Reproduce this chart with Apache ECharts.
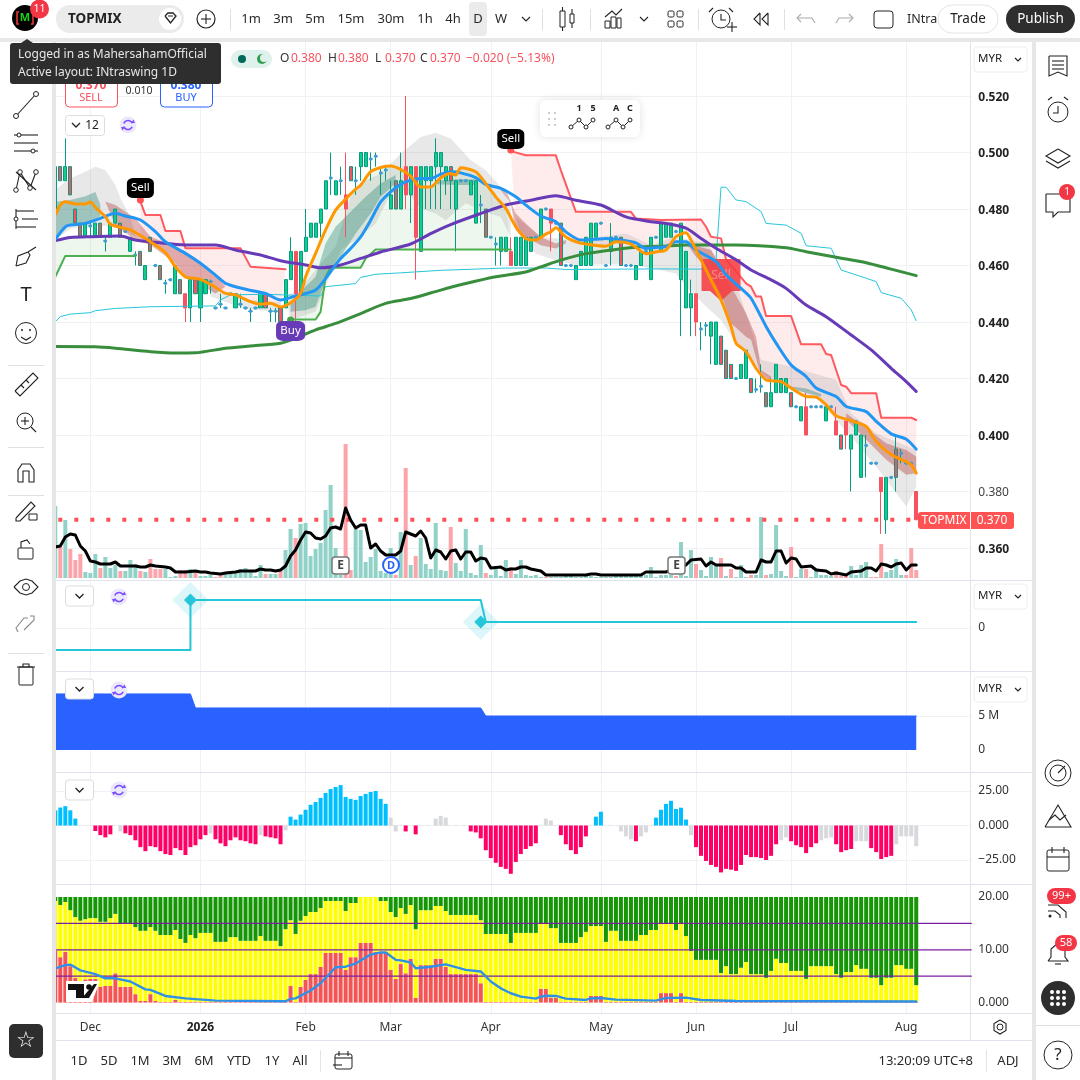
<!DOCTYPE html>
<html><head><meta charset="utf-8">
<style>html,body{margin:0;padding:0;background:#fff}#c{width:1080px;height:1080px}</style>
<script src="https://cdn.jsdelivr.net/npm/echarts@6/dist/echarts.min.js"></script></head>
<body><div id="c"></div>
<script>
const FONT='"Noto Sans",sans-serif';
const tickIdx=[7,29,50,67,87,109,128,147,170];
const tickLabels=['Dec','2026','Feb','Mar','Apr','May','Jun','Jul','Aug'];
const categories=Array.from({length:184},(_,i)=>String(i));
// candles, thousandths of MYR
const opens=[480,495,490,495,480,475,470,474,470,475,
468.7,470,475,475,472,465,463.7,465,455,470,
460,460,453.7,455,450,455,450,445,455,445,
450,454.3,445,446.3,445,450,445,446.3,445,443.8,
445,445,450,443.8,443.8,445,445,455,465,450,
465,470,470,475,480,491,485,490,485,495,
490,495,495,497.7,498.7,492.7,493.8,480,490,480,
495,485,495,465,490,490,495,495,490,495,
480,490,490,485,475,481.4,480,470,467.6,465,
465,465,460,460,460,465,470,470,480,480,
475,475,460,460,455,460,460,460,470,475,
460,465,470,470,460,460,455,460,465,455,
470,465,470,470,472,455,445,445,450,437.5,
438.8,435,425,435,430,425,420,420,420,420,
416.1,417.3,415,410,415,415,415,415,410,405,
410,410,410,410,405,410,405,400,405,395,
400,385,396.3,390,390,385,370,385,395,393.5,
390,390,380];
const closes=[495,490,495,485,475,470,475,474,475,470,
468.7,475,480,470,472,470,463.7,460,460,465,
460,455,453.7,455,460,450,445,455,450,455,
455,454.3,445,446.3,445,450,450,446.3,445,443.8,
445,450,445,443.8,443.8,440,455,465,450,465,
470,475,475,480,490,491,490,490,480,490,
490,500,500,497.7,498.7,492.7,493.8,485,480,490,
485,495,470,495,495,495,500,500,495,490,
490,490,490,490,490,481.4,470,470,467.6,470,
470,460,470,470,470,470,470,480,480,475,
475,460,460,460,460,465,470,475,475,475,
460,470,470,460,460,460,460,465,465,470,
470,475,475,475,472,475,465,450,440,437.5,
438.8,440,440,425,420,420,420,425,430,415,
416.1,417.3,410,415,425,420,420,410,410,410,
400,410,410,410,410,410,400,395,400,400,
405,400,396.3,390,390,380,385,385,385,393.5,
390,390,370];
const lows=[480,490,490,485,475,470,470,470,470,470,
465,470,475,470,472,465,460,460,455,465,
460,455,450,455,450,450,440,440,450,440,
450,450,445,445,445,450,445,445,445,440,
445,445,445,440,440,440,445,455,435,450,
465,470,470,470,480,485,485,485,470,490,
485,490,495,490,495,485,490,480,480,480,
480,475,455,465,480,480,480,480,485,480,
465,490,490,485,475,475,470,470,460,460,
465,460,460,460,460,465,470,470,480,465,
475,460,460,460,455,460,460,460,470,475,
460,460,470,460,460,460,455,460,465,455,
470,465,470,470,472,435,445,435,435,430,
435,425,425,425,420,420,420,420,420,415,
415,415,410,410,415,415,415,410,410,405,
400,410,410,410,405,410,400,395,395,380,
400,385,385,390,390,365,365,385,380,390,
390,390,370];
const highs=[495,495,505,495,480,475,475,475,475,475,
470,475,480,475,472,470,465,465,460,470,
460,460,455,455,460,455,450,455,455,455,
455,455,445,450,445,450,450,450,445,445,
445,450,450,445,445,445,455,470,465,465,
480,475,475,480,490,500,490,495,500,495,
495,500,500,500,500,495,495,490,490,500,
520,495,495,495,495,495,505,500,495,495,
490,490,490,490,490,485,480,470,470,470,
470,470,470,470,470,470,470,480,480,480,
475,475,460,460,460,465,470,475,475,475,
460,475,470,470,460,460,460,465,465,470,
470,475,475,475,472,475,465,455,450,440,
440,440,440,435,430,425,420,425,430,420,
420,425,415,420,425,420,420,415,410,410,
415,410,410,410,410,410,410,400,405,400,
405,400,400,390,390,385,385,385,400,395,
390,390,380];
const redWick=[26,48,58,70,72,91,99,128,150,156,158,165,172];
const volumes=[72,31,58,29,18,24,6,5,24,10,
21,10,13,7,7,18,14,7,6,19,
9,9,9,1,2,8,8,9,8,2,
2,3,1,3,4,6,6,9,10,8,
2,13,4,4,4,7,28,49,40,54,
55,22,29,35,68,93,30,3,134,8,
49,48,16,21,29,7,5,30,3,46,
110,13,22,40,14,9,55,8,7,51,
15,7,49,5,3,33,5,3,9,2,
18,11,4,18,3,2,3,1,1,1,
1,1,2,2,1,1,2,2,1,1,
1,1,2,2,3,3,3,3,3,11,
1,3,3,3,2,36,2,28,14,8,
2,21,14,20,2,9,1,13,1,3,
3,61,3,4,53,7,2,31,1,9,
9,1,10,3,3,2,7,2,2,12,
3,13,16,1,1,34,6,8,19,3,
3,30,8];
const volRed=[1,3,4,5,9,13,17,19,20,21,25,26,28,32,33,42,45,48,58,59,68,70,72,79,86,91,98,124,128,133,135,139,142,147,150,156,157,158,163,164,165,170,171,172];
const volAvg=[[0,31],[1,32],[2,41],[3,44],[4,43],[5,32],[6,27],[7,17],[8,16],[9,14],[10,14],[11,14],[12,16],[13,12],[14,12],[16,12],[17,11],[18,11],[19,13],[20,12],[22,11],[23,10],[24,6],[26,6],[28,7],[29,6],[30,6],[31,5],[33,4],[34,5],[36,6],[37,7],[40,7],[41,9],[42,8],[43,8],[44,7],[45,8],[46,12],[47,22],[48,28],[49,38],[50,46],[51,45],[52,40],[53,39],[54,42],[55,50],[56,51],[57,49],[58,70],[59,58],[60,50],[61,53],[62,53],[63,30],[64,34],[65,27],[66,23],[68,23],[69,27],[70,46],[71,44],[72,42],[73,47],[74,40],[75,20],[76,28],[77,26],[78,19],[79,27],[80,28],[81,19],[82,26],[83,26],[84,17],[85,20],[86,19],[87,10],[89,11],[90,8],[91,9],[92,9],[93,11],[94,11],[95,9],[96,8],[97,7],[98,3],[106,3],[107,4],[108,4],[109,3],[117,3],[118,6],[122,6],[126,13],[127,18],[129,19],[130,12],[131,16],[132,13],[135,13],[136,10],[137,10],[138,6],[140,6],[141,18],[142,16],[143,16],[144,27],[145,27],[146,15],[147,20],[148,19],[149,11],[151,12],[152,8],[154,7],[155,4],[156,5],[158,3],[159,6],[161,7],[162,10],[163,10],[164,7],[165,14],[166,13],[167,11],[168,14],[169,15],[170,8],[171,13],[172,13]];
const emaFast=[[0,.4779],[1,.4814],[2,.4826],[4,.4818],[6,.4818],[7,.4825],[8,.4806],[10,.4773],[11,.4746],[13,.4735],[15,.4726],[17,.4706],[19,.4684],[22,.4645],[24,.4596],[26,.456],[29,.4551],[32,.4523],[34,.4501],[36,.4496],[39,.4472],[41,.4463],[43,.4466],[45,.4453],[47,.4468],[49,.4501],[50,.456],[52,.4643],[54,.4726],[56,.4796],[58,.4835],[60,.487],[61,.4884],[63,.4932],[65,.4947],[67,.4952],[69,.494],[71,.4916],[73,.4878],[75,.4878],[77,.4911],[79,.4926],[80,.492],[81,.4946],[84,.4932],[86,.489],[88,.4843],[90,.4802],[92,.4737],[94,.4696],[96,.469],[98,.4711],[99,.4719],[100,.4734],[102,.4701],[104,.4684],[106,.4676],[110,.4668],[112,.4684],[115,.4676],[118,.4642],[120,.4648],[122,.4655],[124,.4702],[126,.4716],[127,.469],[129,.462],[131,.4549],[133,.4478],[135,.4384],[136,.4325],[138,.4295],[140,.4236],[142,.4195],[145,.4189],[147,.4166],[150,.4136],[152,.4134],[154,.4107],[156,.4068],[159,.4051],[162,.403],[164,.3977],[167,.393],[170,.3906],[171,.3894],[172,.3865]];
const emaSlow=[[0,.4693],[2,.4737],[3,.4743],[6,.4749],[9,.4767],[12,.4785],[14,.4775],[17,.4761],[20,.472],[22,.4684],[26,.4643],[29,.4608],[32,.4566],[34,.4537],[38,.4516],[42,.4501],[45,.4478],[48,.4492],[52,.4513],[55,.4578],[57,.4625],[59,.466],[61,.4701],[63,.476],[65,.4825],[67,.4861],[69,.4887],[71,.4902],[73,.4908],[75,.4908],[77,.4923],[79,.4932],[81,.4928],[84,.4911],[86,.4887],[89,.4873],[92,.4843],[94,.4814],[97,.4775],[100,.4755],[102,.4719],[105,.469],[108,.4693],[110,.4696],[113,.469],[116,.468],[118,.466],[120,.4664],[122,.4667],[124,.4684],[126,.4684],[128,.4655],[132,.4614],[134,.4567],[137,.4519],[139,.4484],[142,.4384],[144,.4325],[147,.4248],[150,.4207],[152,.4166],[156,.4136],[158,.4101],[162,.4083],[164,.4048],[167,.4004],[170,.3985],[172,.395]];
const maPurple=[[0,.4688],[3,.4699],[7,.4702],[13,.4704],[16,.469],[20,.4682],[26,.4673],[32,.4673],[36,.4655],[41,.4637],[45,.4617],[50,.4602],[53,.4592],[57,.4602],[61,.4625],[65,.4648],[71,.4676],[75,.4713],[79,.4745],[85,.4784],[90,.4814],[95,.4831],[100,.4847],[104,.4831],[109,.4814],[114,.4772],[119,.4755],[122,.4749],[126,.4732],[129,.4696],[132,.4661],[136,.462],[139,.4584],[143,.4549],[146,.4519],[150,.446],[154,.4419],[159,.4354],[163,.4301],[167,.4236],[170,.4189],[172,.4154]];
const maGreen=[[0,.4313],[8,.4312],[12,.4307],[19,.4295],[24,.429],[28,.4291],[34,.4307],[39,.4315],[45,.4325],[48,.4342],[52,.4372],[56,.4395],[61,.443],[66,.4466],[71,.4483],[77,.4513],[82,.4536],[88,.456],[94,.4577],[97,.4595],[101,.4619],[106,.4642],[112,.4657],[117,.4666],[121,.4668],[126,.4673],[136,.4673],[146,.4663],[150,.4649],[156,.4629],[162,.461],[167,.4587],[172,.4564]];
const cyanLine=[[0,.4401],[1,.4419],[3,.4428],[7,.4433],[8,.444],[12,.4448],[19,.4454],[32,.4457],[33,.4478],[35,.4496],[42,.4498],[53,.4492],[54,.4525],[60,.4536],[61,.4558],[64,.4569],[69,.4574],[77,.4583],[90,.4591],[98,.4591],[102,.4586],[121,.4588],[129,.4587],[132,.462],[133,.4877],[134,.4877],[136,.4832],[138,.4826],[141,.4791],[142,.4749],[146,.4743],[149,.4714],[150,.467],[155,.4661],[157,.4584],[162,.4555],[164,.4543],[165,.4504],[169,.4484],[171,.4443],[172,.4405]];
const redStep1=[[17,.4826],[18,.4779],[21,.4779],[22,.4722],[25,.4722],[26,.4661],[37,.4661],[39,.4596],[46,.4587]];
const redStep2=[[91,.5005],[94,.499],[100,.499],[101,.4937],[104,.479],[115,.479],[116,.4766],[121,.4761],[129,.4763],[130,.4737],[131,.4702],[133,.4696],[134,.4622],[138,.4537],[139,.4525],[140,.449],[141,.449],[142,.4421],[147,.4421],[149,.4321],[153,.4321],[154,.4287],[155,.4283],[157,.4177],[158,.4171],[159,.4148],[164,.4148],[165,.4061],[171,.4061],[172,.4053]];
const greenStep1=[[0,.456],[2,.4634],[16,.4634]];
const greenStep2=[[47,.4409],[52,.4409],[53,.4436],[54,.456],[55,.4593],[61,.4592],[62,.4625],[64,.4657],[91,.4657]];
// cloud polygons: outline vertices [bar, price]
const grayA=[[0,.4869],[3,.4909],[6,.4932],[8,.495],[10,.4938],[12,.4885],[13,.4838],[15,.4773],[16,.4702],[13,.473],[10,.474],[6,.474],[3,.473],[0,.469]];
const tealA=[[0,.4826],[3,.4832],[6,.4845],[8,.486],[9,.4815],[9,.4775],[7,.4755],[4,.4745],[2,.4737],[0,.4693]];
const redB=[[10,.4826],[12,.4814],[16,.4767],[19,.4702],[24,.4667],[28,.462],[32,.4566],[34,.4525],[32,.4501],[29,.4531],[26,.456],[24,.4608],[19,.4673],[16,.469],[12,.4743]];
const grayB=[[31,.4525],[38,.448],[45,.447],[45,.4435],[38,.4445],[31,.449]];
const tealC=[[47,.4472],[50,.4525],[52,.456],[54,.4678],[56,.4737],[59,.479],[62,.4843],[65,.489],[68,.492],[68,.489],[65,.4843],[63,.4784],[60,.4713],[57,.4631],[54,.4549],[52,.4454],[50,.4442],[47,.4436]];
const grayC=[[46,.449],[49,.4519],[52,.4584],[56,.4667],[59,.4843],[62,.4902],[65,.4926],[69,.4996],[73,.5055],[76,.507],[79,.505],[83,.4973],[86,.4937],[89,.4878],[91,.4808],[91,.4701],[89,.4772],[85,.4796],[82,.482],[78,.476],[76,.4784],[73,.4802],[70,.4867],[67,.4855],[64,.4749],[60,.469],[57,.4655],[52,.4437],[47,.4407]];
const tealD=[[76,.49],[80,.4905],[84,.4905],[84,.4885],[80,.4885],[76,.4888]];
const redE=[[88,.4884],[90,.4867],[92,.4784],[94,.4749],[97,.4701],[100,.4678],[102,.469],[102,.4678],[100,.466],[97,.4672],[94,.4701],[92,.4725],[91,.4819],[89,.4867]];
const grayE=[[92,.4772],[97,.4701],[104,.469],[114,.4713],[119,.4673],[124,.4702],[130,.4679],[136,.4537],[141,.4266],[147,.4242],[156,.4195],[159,.4077],[164,.4006],[172,.3947],[172,.3818],[170,.3747],[167,.3818],[164,.3888],[159,.3995],[152,.413],[147,.4171],[142,.4207],[136,.4325],[133,.4407],[130,.4455],[126,.4525],[124,.4572],[119,.459],[114,.4607],[104,.4601],[100,.4619],[96,.4642],[93,.4713]];
const redF=[[126,.4679],[131,.4655],[135,.4525],[138,.4431],[140,.4348],[141,.423],[143,.4207],[143,.4195],[141,.4207],[139,.4337],[138,.4348],[135,.4396],[133,.4502],[130,.4596],[128,.4631]];
const redG=[[158,.4077],[162,.4024],[166,.3971],[170,.3947],[172,.3924],[172,.3865],[170,.3859],[166,.3912],[162,.3983],[158,.4054]];
const tealE=[[147,.4172],[150,.4165],[153,.4145],[153,.4135],[150,.415],[147,.4162]];
const lastPrice=.37;
const sellBars=[17,91], sellPrices=[.4874,.5048], sellDots=[.4832,.5009], sellTips=[.4848,.5024];
const buyBars=[47], buyPrices=[.4368], buyDots=[.4407];
const bigSell=[[133,.4566]], bigSellTip=[[133,.4492]];
// pane 2
const trendStep=[[0,-22],[27,-22],[27,28],[85,28],[86,6],[172,6]];
const trendFlips=[[27,28],[85,6]];
// pane 3 (millions)
const equity=[[0,8.24],[27,8.24],[28,6.18],[85,6.18],[86,5],[172,5]];
// pane 4
const osc=[11,13,14,11,5,0,0,0,-4,-7,
-8.6,-6.4,0,-4.3,-5.7,-7,-10.7,-15.7,-18.6,-15,
-15.7,-18.6,-20.7,-21.4,-16.4,-17.9,-21.4,-15.7,-14.3,-10,
-7,-5.7,-10,-12.9,-15,-10.7,-8.6,-10.7,-11.4,-12.9,
-13.6,-7,-7.9,-8.6,-9.3,-13.6,-3.6,6.4,4.3,7.9,
11.4,15,17,20,23.6,26.4,27.9,29.3,20.7,19.3,
18.6,21.4,22.9,24.3,25,19.3,15.7,5.7,-4.3,0,
-4.3,0,-6.4,0,0,0,5,7,5.7,0,
0,0,0,-4.3,-5,-9.3,-17.9,-23.6,-27,-30,
-31.4,-35,-26.4,-20.7,-17,-15,-12.9,0,5,3.6,
0,-7,-13.6,-17.9,-20.7,-15.7,-7.9,0,6.4,10,
0,0,0,-4.3,-7.9,-10,-11.4,-7.9,-5,0,
5.7,11.4,15.7,17.9,12,12.9,4.3,-7,-15.7,-22,
-25.7,-28.6,-30,-34,-31.4,-32,-32.9,-28.6,-21.4,-22.9,
-22.9,-23.6,-25,-22,-13.6,-10.7,-8.6,-11.4,-14.3,-15.7,
-20,-15.7,-12.9,-10.7,-9.3,-8.6,-13.6,-19.3,-17.9,-17,
-11.4,-11.4,-11.4,-16.4,-19.3,-24.3,-22.9,-22,-13.6,-7.9,
-7.9,-7.9,-15];
const oscGray=[13,31,41,46,67,68,76,77,78,98,99,113,114,115,117,118,127,145,146,153,154,155,160,161,162,168,169,170,171,172];
// pane 5
const yellowTop=[19.24,18.49,19.05,17.5,16.2,15.5,15.8,16,16,15.3,
15.3,16,16.8,15,15,15,14.3,13.6,13.6,14.3,
13.6,12.8,12.8,12.8,13.75,12.05,11.3,12.8,12.2,13.2,
13.2,13.2,11.5,11.5,11.5,12.4,12.4,11.7,11.7,11.7,
11.7,12.6,11.7,11.7,11.7,10.7,13.9,15.6,13,15.5,
16.4,17.16,17.16,17.9,19.24,19.24,19.24,19.24,17.35,18.86,
18.86,20,20,20,20,19.24,19.24,17.16,16.2,17.9,
16.8,18.49,13.9,17.5,17.5,17.5,18.3,18.3,17.35,16.6,
16.6,16.6,16.6,16.6,16.6,15.6,13,13,13,13,
13,11.3,13.2,13.2,13.2,13.2,13.2,15,15,14.1,
14.1,11.3,11.3,11.3,11.3,12.4,13.4,14.5,14.5,14.5,
11.5,13.6,13.6,11.7,11.7,11.7,11.7,12.8,12.8,13.75,
13.75,15,15,15,13.75,15,12.6,9.8,8.1,8.1,
8.1,8.1,8.1,5.6,6.9,5.4,5.4,6.6,7.7,5.4,
5.4,5.4,4.7,6,8.3,7.5,7.5,6,6,6,
4.5,6.9,6.9,6.9,6.9,6.9,5.4,4.7,5.8,5.8,
7.1,6.4,6.4,4.7,4.7,3.3,4.7,4.7,7.1,7.1,
6.4,6.4,3.3];
const redTop=[9.8,8.6,9.6,6.9,4.7,3.9,4.4,4.5,4.5,3,
3.15,3.15,5.55,3,3,3,1.6,.3,.3,1.6,
.3,.13,.13,.13,.5,.13,.13,.13,.13,.13,
.13,.13,.13,.13,.13,.13,.13,.13,.13,.13,
.13,.13,.13,.13,.13,.13,.13,3.15,.13,3,
4.3,5.4,5.4,6.75,9.4,9.4,9.4,9.4,6.2,8.6,
8.6,11.3,11.3,11.3,9.6,9.6,9.6,6.2,4.5,7.3,
5.55,8.3,.9,7.1,7.1,7.1,8.3,8.3,6.75,5.4,
5.4,5.4,5.4,5.4,5.4,3.66,.13,.13,.13,.13,
.13,.13,.13,.13,.13,.13,.13,2.6,2.6,.9,
.9,.13,.13,.13,.13,.13,.13,1.26,1.26,1.26,
.13,.13,.13,.13,.13,.13,.13,.13,.13,.13,
.13,1.8,1.8,1.8,.13,1.8,.13,.13,.13,.13,
.13,.13,.13,.13,.13,.13,.13,.13,.13,.13,
.13,.13,.13,.13,.13,.13,.13,.13,.13,.13,
.13,.13,.13,.13,.13,.13,.13,.13,.13,.13,
.13,.13,.13,.13,.13,.13,.13,.13,.13,.13,
.13,.13,.13];
const condLine=[[0,6.5],[2,7.1],[3,7.2],[5,6.1],[8,5.4],[10,4.6],[12,4.6],[15,4],[18,2.5],[19,2.4],[22,1.26],[26,.8],[32,.38],[46,.25],[47,.7],[48,.8],[51,2.3],[53,3.66],[56,6.7],[58,6.8],[60,7.4],[63,9.1],[65,9.5],[66,9.5],[68,8.1],[69,8],[71,7.6],[72,6.5],[75,6.8],[78,7.25],[82,6.2],[85,5.9],[87,4],[89,2.7],[91,1.77],[93,1.14],[96,.76],[97,1.14],[98,1.3],[100,1.26],[102,.76],[106,.5],[107,.8],[109,.88],[112,.57],[120,.38],[122,.88],[126,.95],[129,.5],[136,.3],[172,.2]];
const condLevels=[15,10,5];

const L=55.3,W=916;
const LBL={fontFamily:FONT,fontSize:12,color:'#333',margin:7,align:'left',padding:[3,0,0,0]};
const grids=[[42,971],[39.5,565],[585,86],[682,68],[756.5,138],[897,105.6]].map(g=>({left:L,width:W,top:g[0],height:g[1],containLabel:false}));
const xAxes=grids.map((g,i)=>({gridIndex:i,type:'category',data:categories,boundaryGap:false,show:i===0,
  axisLine:{show:false},axisTick:{show:false},
  axisLabel:i===0?{interval:(k)=>tickIdx.includes(k),margin:9,fontFamily:FONT,fontSize:12,color:'#333',hideOverlap:false,
    formatter:(v,k)=>{const j=tickIdx.indexOf(+v);if(j<0)return '';return tickLabels[j]==='2026'?'{b|2026}':tickLabels[j];},rich:{b:{fontWeight:'bold',fontSize:12,fontFamily:FONT,color:'#222'}}}:{show:false},
  splitLine:i===0?{show:true,interval:(k)=>tickIdx.includes(k),lineStyle:{color:'#f0f1f4',width:1}}:{show:false}}));
const hl={show:true,showMinLine:false,showMaxLine:false,lineStyle:{color:'#f0f1f4',width:1}};
const yAxes=[
 {gridIndex:0,type:'value',show:false,min:0,max:1},
 {gridIndex:1,type:'value',position:'right',min:.34,max:.54,interval:.02,axisLine:{show:false},axisTick:{show:false},splitLine:hl,
  axisLabel:{...LBL,formatter:v=>{const m=Math.round(v*1000);if(m===340||m===540)return '';const s=(m/1000).toFixed(3);return m===380?'{n|'+s+'}':'{b|'+s+'}';},
   rich:{b:{fontWeight:'bold',fontSize:12,fontFamily:FONT,color:'#222'},n:{fontSize:12,fontFamily:FONT,color:'#444'}}}},
 {gridIndex:1,type:'value',show:false,min:-26.5,max:538.5},
 {gridIndex:2,type:'value',position:'right',min:-43,max:43,interval:43,axisLine:{show:false},axisTick:{show:false},splitLine:{...hl},
  axisLabel:{...LBL,formatter:v=>v===0?'0':''}},
 {gridIndex:3,type:'value',position:'right',min:0,max:10,interval:5,axisLine:{show:false},axisTick:{show:false},splitLine:{...hl},
  axisLabel:{...LBL,formatter:v=>v===0?'0':(v===5?'5 M':'')}},
 {gridIndex:4,type:'value',position:'right',min:-50,max:50,interval:25,axisLine:{show:false},axisTick:{show:false},splitLine:hl,
  axisLabel:{...LBL,formatter:v=>v===25?'25.00':v===0?'0.000':v===-25?'\u221225.00':''}},
 {gridIndex:5,type:'value',position:'right',min:0,max:20,interval:10,axisLine:{show:false},axisTick:{show:false},splitLine:{show:false},
  axisLabel:{...LBL,formatter:v=>v===0?'0.000':v.toFixed(2)}}
];
const line=(data,color,width,z,xi=1,yi=1,extra={})=>({type:'line',data,xAxisIndex:xi,yAxisIndex:yi,showSymbol:false,symbol:'none',smooth:false,z,animation:false,lineStyle:{color,width,cap:'round',join:'round'},...extra});
const poly=(outline,fill,z)=>({type:'custom',coordinateSystem:'cartesian2d',xAxisIndex:1,yAxisIndex:1,z,clip:true,silent:true,animation:false,data:[[outline[0][0],outline[0][1]]],
  renderItem:(p,api)=>({type:'polygon',shape:{points:outline.map(v=>api.coord(v))},style:{fill}})});
const dot=(data,symbol,size,color,z,xi=1,yi=1,extra={})=>({type:'scatter',xAxisIndex:xi,yAxisIndex:yi,symbol,symbolSize:size,z,animation:false,silent:true,itemStyle:{color,opacity:1},data,...extra});
const between=(upper,lower)=>upper.concat(lower.slice().reverse());
const inRange=(a,x0,x1)=>a.filter(v=>v[0]>=x0&&v[0]<=x1);
const PINK='rgba(247,82,95,.11)',GRAY='rgba(110,110,110,.16)',DRED='rgba(175,50,50,.36)',TEAL='rgba(30,130,115,.36)',PGREEN='rgba(76,175,80,.1)';
const series=[
 {type:'bar',xAxisIndex:1,yAxisIndex:2,barWidth:4,z:2,animation:false,silent:true,
  data:volumes.map((v,k)=>({value:v,itemStyle:{color:volRed.includes(k)?'#fba5aa':'#90d2c7'}}))},
 poly(between(greenStep1,inRange(maPurple,0,16)),PGREEN,3),
 poly(between(greenStep2,inRange(emaFast,47,91)),PGREEN,3),
 poly(between(redStep1,inRange(emaFast,17,46)),PINK,3),
 poly(between(redStep2,inRange(emaFast,91,172)),PINK,3),
 poly(grayA,GRAY,3),poly(grayB,GRAY,3),poly(grayC,GRAY,3),poly(grayE,GRAY,3),
 poly(tealA,TEAL,3),poly(tealC,TEAL,3),poly(tealD,TEAL,3),poly(tealE,TEAL,3),
 poly(redB,DRED,3),poly(redE,DRED,3),poly(redF,DRED,3),poly(redG,DRED,3),
 {type:'candlestick',xAxisIndex:1,yAxisIndex:1,barWidth:3.6,z:4,animation:false,silent:true,
  itemStyle:{color:'#0dcf8b',color0:'#f7525f',borderColor:'#089981',borderColor0:'#089981',borderColorDoji:'#089981',borderWidth:1},
  data:opens.map((o,k)=>{const value=[o/1000,closes[k]/1000,lows[k]/1000,highs[k]/1000];
    return redWick.includes(k)?{value,itemStyle:{borderColor0:'#f7525f',borderColor:'#f7525f'}}:{value};})},
 dot(opens.map((o,k)=>o===closes[k]?[k,o/1000]:null).filter(Boolean),'circle',3.5,'#3f9dd6',4),
 line([[0,lastPrice],[172,lastPrice]],'#f7525f',4,4,1,1,{lineStyle:{color:'#ff5252',width:4,type:[4,12],dashOffset:13,cap:'butt'}}),
 line(cyanLine,'#26c6da',1,5),
 line(redStep1,'#ff5a5f',2,5),line(redStep2,'#ff5a5f',2,5),
 line(greenStep1,'#4caf50',2,5),line(greenStep2,'#4caf50',2,5),
 dot(bigSell,'rect',[39,32],'rgba(245,60,65,.88)',5,1,1,{label:{show:true,formatter:'Sell',color:'rgba(255,255,255,.35)',fontFamily:FONT,fontSize:12}}),
 dot(bigSellTip,'triangle',[22,10],'rgba(245,60,65,.88)',5,1,1,{symbolRotate:180}),
 line(maGreen,'#388e3c',3,6,1,1,{smooth:.25}),line(maPurple,'#673ab7',3,6,1,1,{smooth:.25}),
 line(emaSlow,'#2196f3',3,7,1,1,{smooth:.25}),line(emaFast,'#ff9800',3,8,1,1,{smooth:.25}),
 line(volAvg,'#000',3,8,1,2),
 dot(sellBars.map((k,i)=>[k,sellDots[i]]),'circle',7,'#ff5252',9),
 dot(buyBars.map((k,i)=>[k,buyDots[i]]),'circle',7,'#43a047',9),
 dot(sellBars.map((k,i)=>[k,sellTips[i]]),'triangle',[8,5],'#000',10,1,1,{symbolRotate:180}),
 dot(sellBars.map((k,i)=>[k,sellPrices[i]]),'roundRect',[27,20],'#000',10,1,1,{label:{show:true,formatter:'Sell',color:'#fff',fontFamily:FONT,fontSize:11.5}}),
 dot(buyBars.map((k,i)=>[k,buyPrices[i]]),'roundRect',[29,20],'#673ab7',10,1,1,{label:{show:true,formatter:'Buy',color:'#fff',fontFamily:FONT,fontSize:11.5}}),
 // pane 2
 line(trendStep,'#26c6da',2,5,2,3),
 dot(trendFlips,'diamond',36,'rgba(38,198,218,.16)',4,2,3),
 dot(trendFlips,'diamond',13,'#26c6da',6,2,3),
 // pane 3
 line(equity,'#2962ff',1,5,3,4,{areaStyle:{color:'#2962ff',opacity:1}}),
 // pane 4
 {type:'bar',xAxisIndex:4,yAxisIndex:5,barWidth:4,z:3,animation:false,silent:true,
  data:osc.map((v,k)=>({value:v,itemStyle:{color:oscGray.includes(k)?'#d8d9dd':(v>0?'#00bfff':'#ff0066')}}))},
 line([[0,0],[172,0]],'#e6e6ea',1,2,4,5,{lineStyle:{color:'#e6e6ea',width:1,type:[4,3]}}),
 // pane 5
 {type:'bar',stack:'c',xAxisIndex:5,yAxisIndex:6,barWidth:4,z:3,animation:false,silent:true,itemStyle:{color:'#f45454'},data:redTop},
 {type:'bar',stack:'c',xAxisIndex:5,yAxisIndex:6,barWidth:4,z:3,animation:false,silent:true,itemStyle:{color:'#ffff00'},data:yellowTop.map((v,k)=>v-redTop[k])},
 {type:'bar',stack:'c',xAxisIndex:5,yAxisIndex:6,barWidth:4,z:3,animation:false,silent:true,itemStyle:{color:'#149605'},data:yellowTop.map(v=>20-v)},
 ...condLevels.map(v=>line([[0,v],[183,v]],'#7b1fa2',1.2,5,5,6)),
 line(condLine,'#2f90e8',2.4,6,5,6)
];

// interface chrome
const E=[];const Z=100;
const T=(x,y,text,o={})=>E.push({type:'text',z:o.z||Z,silent:true,style:{text,x,y,fill:o.c||'#222',font:`${o.b?'bold ':''}${o.s||12}px ${FONT}`,textAlign:o.a||'center',textVerticalAlign:'middle'}});
const R=(x,y,w,h,o={})=>E.push({type:'rect',z:o.z||Z,silent:true,shape:{x,y,width:w,height:h,r:o.r||0},style:{fill:o.f||'none',stroke:o.st||null,lineWidth:o.w||1,shadowBlur:o.sb||0,shadowColor:o.sc||'transparent'}});
const C=(x,y,r,o={})=>E.push({type:'circle',z:o.z||Z,silent:true,shape:{cx:x,cy:y,r},style:{fill:o.f||'none',stroke:o.st||null,lineWidth:o.w||1}});
const P=(pts,o={})=>E.push({type:'polyline',z:o.z||Z,silent:true,shape:{points:pts},style:{fill:'none',stroke:o.st||'#222',lineWidth:o.w||1.1}});
const F=(pts,c,z)=>E.push({type:'polygon',z:z||Z,silent:true,shape:{points:pts},style:{fill:c}});
const GR='#e7e7e7',SEP='#e0e3eb';
// frames
R(0,38,1080,4,{f:GR});R(52,42,4,1038,{f:GR});R(1032,42,4,1038,{f:GR});
[580,671,772,884,1013,1040].forEach(y=>R(56,y,976,1,{f:SEP,z:1}));
R(970,42,1,998,{f:SEP,z:1});
// top bar
C(25,18,13,{f:'#000'});T(25,18,'M',{c:'#19d219',b:1,s:11});P([[19,12],[17,12],[17,24],[19,24]],{st:'#e53935',w:1.6});P([[31,12],[33,12],[33,24],[31,24]],{st:'#e53935',w:1.6});
C(39.5,9,9.5,{f:'#f23645'});T(39.5,9,'11',{c:'#fff',s:10.5});
R(56,5,128,28,{f:'#ebebeb',r:14});T(68,19,'TOPMIX',{a:'left',b:1,s:13.5});C(170,19,11,{f:'#fff'});
P([[165,16],[168,13],[173,13],[176,16],[170.5,23],[165,16]],{w:1.3});P([[168,16],[173,16]],{w:1});
C(206,19,9,{st:'#222',w:1.2});P([[201,19],[211,19]]);P([[206,14],[206,24]]);
[230,542,590,698,784].forEach(x=>R(x,9,1,21,{f:'#e0e0e0'}));
R(469,2,18,34,{f:'#ebebeb',r:4});
[['1m',251],['3m',283],['5m',315],['15m',351],['30m',391],['1h',425],['4h',453],['D',478],['W',501]].forEach(a=>T(a[1],19,a[0],{s:13,c:'#2a2a2a'}));
P([[522,17],[526,21],[530,17]]);
R(560,11,5,16,{st:'#222'});P([[562.5,7],[562.5,11]]);P([[562.5,27],[562.5,31]]);R(570,14,4,9,{st:'#222'});P([[572,9],[572,14]]);P([[572,23],[572,28]]);
P([[605,17],[612,11],[616,15],[622,9]]);R(605,21,5,7,{st:'#222'});R(611,17,5,11,{st:'#222'});R(617,18,4,10,{st:'#222'});
P([[640,17],[644,21],[648,17]]);
R(668,11,6,6,{st:'#222',r:1.5});R(677,11,6,6,{st:'#222',r:1.5});R(668,21,6,6,{st:'#222',r:1.5});R(677,21,6,6,{st:'#222',r:1.5});
C(721,19,9,{st:'#222'});P([[721,14],[721,20],[726,20]]);P([[713,8],[709,12]]);P([[729,8],[733,12]]);P([[727,27],[737,27]]);P([[732,22],[732,32]]);
P([[760,13],[754,19],[760,25],[760,13]]);P([[768,13],[762,19],[768,25],[768,13]]);
P([[801,14],[797,18],[801,22]],{st:'#aaa'});P([[797,18],[812,18],[815,23]],{st:'#aaa'});
P([[849,14],[853,18],[849,22]],{st:'#aaa'});P([[853,18],[839,18],[836,23]],{st:'#aaa'});
R(874,11,19,17,{st:'#222',r:3});
T(907,19,'INtra',{a:'left',s:12.5,c:'#2a2a2a'});R(937,5,3,28,{f:'#fff'});
R(938,5,60,28,{f:'#fff',st:'#e4e4e4',r:14});T(968,19,'Trade',{s:13.5});
R(1006,5,69,28,{f:'#2e2e2e',r:14});T(1040.5,19,'Publish',{c:'#fff',s:13.5});
// legend
R(231,50,41,18,{f:'#dff1ec',r:9});C(242,59,4,{f:'#00695c'});C(262,59,5,{f:'#2e9e4f'});C(264,58,4,{f:'#dff1ec'});
[['O',280,'#333'],['0.380',291,'#f7525f'],['H',328,'#333'],['0.380',338,'#f7525f'],['L',375,'#333'],['0.370',385,'#f7525f'],['C',420,'#333'],['0.370',430,'#f7525f'],['\u22120.020 (\u22125.13%)',466,'#f7525f']].forEach(a=>T(a[1],59,a[0],{a:'left',c:a[2],s:12}));
// buy sell
R(65.5,80,52,27,{f:'#fff',st:'#f7525f',r:4});T(91,86,'0.370',{c:'#f7525f',b:1});T(91,98,'SELL',{c:'#f7525f',s:11});
T(139,91,'0.010',{s:10.5,c:'#333'});
R(160.5,80,52,27,{f:'#fff',st:'#2962ff',r:4});T(186,86,'0.380',{c:'#2962ff',b:1});T(186,98,'BUY',{c:'#2962ff',s:11});
// tooltip
F([[21,43],[27,39],[33,43]],'#2e2e2e',Z+2);R(10,43,211,41,{f:'#2e2e2e',r:3,z:Z+2});
T(18,55,'Logged in as MahersahamOfficial',{a:'left',c:'#e6e6e6',s:12,z:Z+3});T(18,73,'Active layout: INtraswing 1D',{a:'left',c:'#e6e6e6',s:12,z:Z+3});
// pane buttons
const arc=(x,y,a0,a1)=>E.push({type:'arc',z:Z,silent:true,shape:{cx:x,cy:y,r:4.5,startAngle:a0,endAngle:a1},style:{fill:'none',stroke:'#7c4dff',lineWidth:1.6}});
const refresh=(x,y)=>{C(x,y,8.5,{f:'#ece8fb'});arc(x,y,3.5,5.9);arc(x,y,.4,2.8);F([[x+3,y-2],[x+7,y-2],[x+5.5,y-5.5]],'#7c4dff');F([[x-3,y+2],[x-7,y+2],[x-5.5,y+5.5]],'#7c4dff');};
const chev=(x,y)=>P([[x-4,y-2],[x,y+2],[x+4,y-2]],{w:1.3});
R(65.5,115.5,39,20,{f:'#fff',st:'#ddd',r:3});chev(76,125);T(92,125.5,'12',{s:12});refresh(128,125);
[[596,119,597],[689,119,690],[790,119,790]].forEach(a=>{R(65.5,a[0]-10,28,20,{f:'#fff',st:'#ddd',r:3});chev(79.5,a[0]);refresh(a[1],a[2]);});
// MYR
[59,596,689].forEach(y=>{R(974,y-12,53,25,{f:'#fff',st:'#eee',r:3});T(978,y,'MYR',{a:'left',s:11.5});P([[1015,y-1],[1018,y+2],[1021,y-1]],{w:1.2});});
// elliott widget
R(540,100,100,37,{f:'#fff',r:6,sb:8,sc:'rgba(0,0,0,.12)'});
[548,554].forEach(x=>[112,118,124].forEach(y=>R(x,y,2,2,{f:'#ccc'})));
[[571,'1','5'],[608,'A','C']].forEach(a=>{const x=a[0];P([[x,127],[x+8,120],[x+15,127],[x+22,120]],{w:1});
 [[x,127],[x+8,120],[x+15,127],[x+22,120]].forEach(p=>C(p[0],p[1],2,{f:'#fff',st:'#222'}));T(x+8,108,a[1],{s:9,b:1});T(x+22,108,a[2],{s:9,b:1});});
// event markers
R(332,557,17,17,{f:'#fff',st:'#777',r:3,w:1.5});T(340.5,565.5,'E',{s:12,c:'#444',b:1});
C(391,565,8,{f:'#fff',st:'#2962ff',w:2});T(391,565.5,'D',{s:11,c:'#2962ff',b:1});
R(668,557,17,17,{f:'#fff',st:'#777',r:3,w:1.5});T(676.5,565.5,'E',{s:12,c:'#444',b:1});
// last price tag
R(918,512,96,17,{f:'#ff5252',r:3});R(970,512,1,17,{f:'#fff'});T(944,520.5,'TOPMIX',{c:'#fff',s:12});T(992,520.5,'0.370',{c:'#fff',s:12});
// TV logo
F([[66,981],[100,981],[92,1002],[66,1002]],'#fff',Z);
F([[68,984],[84,984],[84,998],[76,998],[76,990],[68,990]],'#111',Z+1);C(89,987,2.8,{f:'#111',z:Z+1});F([[94,984],[97,984],[89,998],[82,998]],'#111',Z+1);
// time axis right
C(1000,1027,3,{st:'#222'});P([[1000,1020],[1006,1023.5],[1006,1030.5],[1000,1034],[994,1030.5],[994,1023.5],[1000,1020]]);
// bottom bar
[['1D',79],['5D',109],['1M',140],['3M',172],['6M',204],['YTD',239],['1Y',272],['All',300]].forEach(a=>T(a[1],1061,a[0],{s:13,c:'#2a2a2a'}));
R(320,1050,1,22,{f:SEP});
R(335,1054,17,15,{st:'#222',r:2});P([[335,1058],[352,1058]]);P([[339,1051],[339,1056]]);P([[348,1051],[348,1056]]);P([[333,1065],[342,1065]]);
T(973,1061,'13:20:09 UTC+8',{a:'right',s:13,c:'#2a2a2a'});R(986,1050,1,22,{f:SEP});T(1008,1061,'ADJ',{s:13,c:'#2a2a2a'});
// left tools
const lx=26;
P([[16,116],[36,94]]);C(16,116,2.5,{f:'#fff',st:'#222'});C(36,94,2.5,{f:'#fff',st:'#222'});
[135,143,151].forEach(y=>P([[14,y],[38,y]]));C(19,135,2,{f:'#fff',st:'#222'});C(33,151,2,{f:'#fff',st:'#222'});
P([[16,190],[20,172],[30,188],[36,172]]);P([[16,172],[36,190]]);[[16,190],[20,172],[30,188],[36,172]].forEach(p=>C(p[0],p[1],2.3,{f:'#fff',st:'#222'}));
P([[16,209],[16,229]]);P([[16,211],[34,211]]);P([[22,219],[38,219]]);P([[16,227],[36,227]]);C(16,219,2,{f:'#fff',st:'#222'});
P([[16,266],[18,256],[28,252],[36,247]]);P([[16,266],[26,263],[30,255],[28,252]]);
T(lx,295,'T',{s:20,c:'#222'});
C(lx,333,10.5,{st:'#222'});C(22,330,1,{f:'#222'});C(30,330,1,{f:'#222'});P([[21,337],[26,340],[31,337]]);
P([[15,391],[33,373],[38,378],[20,396],[15,391]]);P([[21,385],[24,388]]);P([[26,380],[29,383]]);
C(25,421,8,{st:'#222'});P([[31,427],[36,432]]);P([[21,421],[29,421]]);P([[25,417],[25,425]]);
P([[18,482],[18,470],[22,464],[30,464],[34,470],[34,482],[29,482],[29,471],[23,471],[23,482],[18,482]]);
P([[16,518],[31,502],[35,506],[20,521],[16,521],[16,518]]);R(29,514,8,6,{st:'#222'});
R(18,548,15,11,{st:'#222',r:1});P([[21,548],[21,542],[27,540],[30,544]]);
P([[14,587],[20,581],[26,579],[32,581],[38,587],[32,593],[26,595],[20,593],[14,587]]);C(26,587,3.5,{st:'#222'});
P([[18,632],[16,628],[24,618],[28,618]],{st:'#888'});P([[24,630],[34,620],[34,616],[30,616]],{st:'#888'});
P([[17,667],[35,667]]);R(19,667,14,18,{st:'#222',r:1});P([[23,667],[23,664],[29,664],[29,667]]);
R(9,1024,34,34,{f:'#2e2e2e',r:5});T(26,1041,'\u2606',{c:'#fff',s:22});
[[8,365],[8,447],[8,495],[8,653]].forEach(a=>R(a[0],a[1],36,1,{f:'#e0e0e0'}));
// right tools
const rx=1058;
P([[1049,56],[1067,56],[1067,76],[1058,72],[1049,76],[1049,56]]);[61,65,69].forEach(y=>P([[1052,y],[1064,y]]));
C(rx,112,10,{st:'#222'});P([[rx,106],[rx,113],[rx-5,113]]);P([[1048,100],[1052,97]]);P([[1068,100],[1064,97]]);
P([[rx,149],[1070,156],[rx,163],[1046,156],[rx,149]]);P([[1046,161],[rx,168],[1070,161]]);
P([[1046,194],[1070,194],[1070,212],[1058,212],[1053,217],[1053,212],[1046,212],[1046,194]]);C(1067,192,8,{f:'#f23645'});T(1067,192,'1',{c:'#fff',s:10});
C(rx,773,13,{st:'#222'});C(rx,773,8,{st:'#222'});P([[rx,773],[1065,766]]);
P([[1045,827],[1058,805],[1071,827],[1045,827]]);P([[1049,820],[1055,815],[1060,820],[1066,815]]);
R(1047,850,22,21,{st:'#222',r:2});P([[1047,857],[1069,857]]);P([[1052,847],[1052,853]]);P([[1064,847],[1064,853]]);
P([[1048,905],[1058,905],[1066,912],[1066,918]]);P([[1048,911],[1055,911],[1060,915],[1060,918]]);C(1050,916,1.5,{f:'#222'});
R(1047,888,29,16,{f:'#f23645',r:8});T(1061.5,896,'99+',{c:'#fff',s:11});
P([[1048,961],[1051,957],[1051,949],[1058,943],[1065,949],[1065,957],[1068,961],[1048,961]]);P([[1055,964],[1061,964]]);
R(1055,935,22,16,{f:'#f23645',r:8});T(1066,943,'58',{c:'#fff',s:11});
C(rx,998,17,{f:'#2e2e2e'});[992,998,1004].forEach(y=>[1052,1058,1064].forEach(x=>C(x,y,2,{f:'#fff'})));
R(1036,1025,44,1,{f:'#e0e0e0'});
C(rx,1055,14,{st:'#222'});T(rx,1055,'?',{s:17,c:'#222'});

const chart=echarts.init(document.getElementById('c'),null,{renderer:'canvas'});
chart.setOption({animation:false,backgroundColor:'#fff',textStyle:{fontFamily:FONT},grid:grids,xAxis:xAxes,yAxis:yAxes,series,graphic:{elements:E}});
</script></body></html>
